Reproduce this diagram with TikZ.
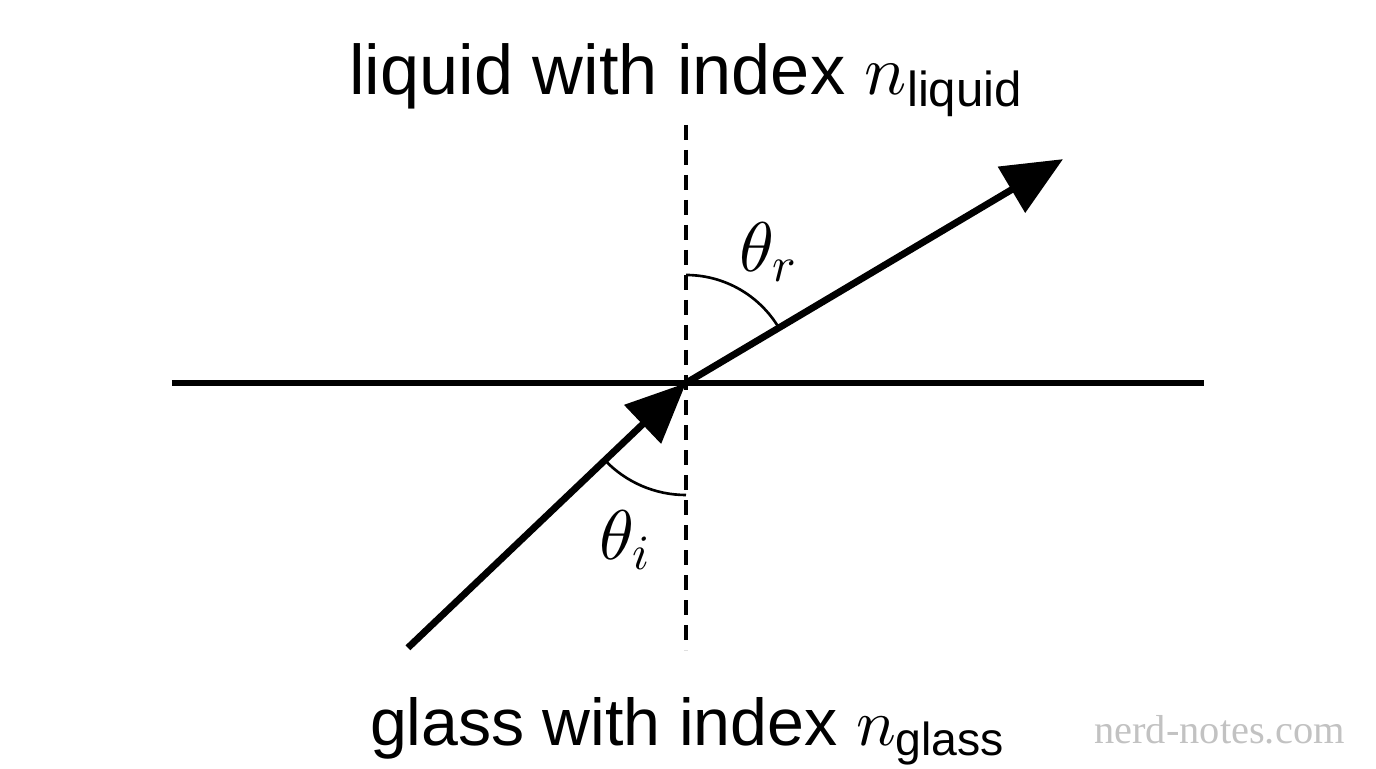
\RequirePackage{fix-cm}
\documentclass[tikz,border=0pt]{standalone}
\usepackage{amsmath}
\usepackage{fontspec}
\setmainfont{Liberation Sans}
\newfontfamily\markfont{Liberation Serif}
\DeclareFontShape{OML}{cmm}{m}{it}{<->cmmi10}{\skewchar\font=127 }
\usetikzlibrary{arrows.meta}

\begin{document}
\begin{tikzpicture}[
    ray/.style={line width=3.9pt, -{Triangle[length=1.2cm,width=1.04cm]}},
    surface/.style={line width=3.9pt},
    normal/.style={line width=2pt, dash pattern=on 0.3cm off 0.2cm},
    anglearc/.style={line width=1.5pt},
    caption/.style={inner sep=0pt, anchor=base}]
    \useasboundingbox (-13.72,-7.7) rectangle (13.8,7.66);
    \coordinate (O) at (0,0);
    \coordinate (left) at (-10.28,0);
    \coordinate (right) at (10.36,0);
    \coordinate (up) at (0,5.16);
    \coordinate (down) at (0,-5.34);
    \coordinate (in) at (223.6:7.68);
    \coordinate (out) at (30.7:8.77);
    \node (liquid) [caption, font=\fontsize{40}{48}\selectfont] at (0,5.76) {liquid with index $n_{\text{liquid}}$};
    \node (glass) [caption, font=\fontsize{37.7}{45}\selectfont] at (0.03,-7.24) {glass with index $n_{\text{glass}}$};
    \node (thr) [font=\fontsize{40}{48}\selectfont, inner sep=0pt] at (1.64,2.62) {$\theta_r$};
    \node (thi) [font=\fontsize{40}{48}\selectfont, inner sep=0pt] at (-1.22,-3.14) {$\theta_i$};
    \node (mark) [font=\markfont\fontsize{23}{28}\selectfont, text=black!24, inner sep=0pt, anchor=base] at (10.67,-7.2) {nerd-notes.com};
    \draw[normal] (up) -- (down);
    \draw[surface] (left) -- (right);
    \draw[anglearc] (O) ++(90:2.16) arc[start angle=90, end angle=30.7, radius=2.16];
    \draw[anglearc] (O) ++(223.6:2.24) arc[start angle=223.6, end angle=270, radius=2.24];
    \draw[ray] (in) -- (O);
    \draw[ray] (O) -- (out);
\end{tikzpicture}
\end{document}
